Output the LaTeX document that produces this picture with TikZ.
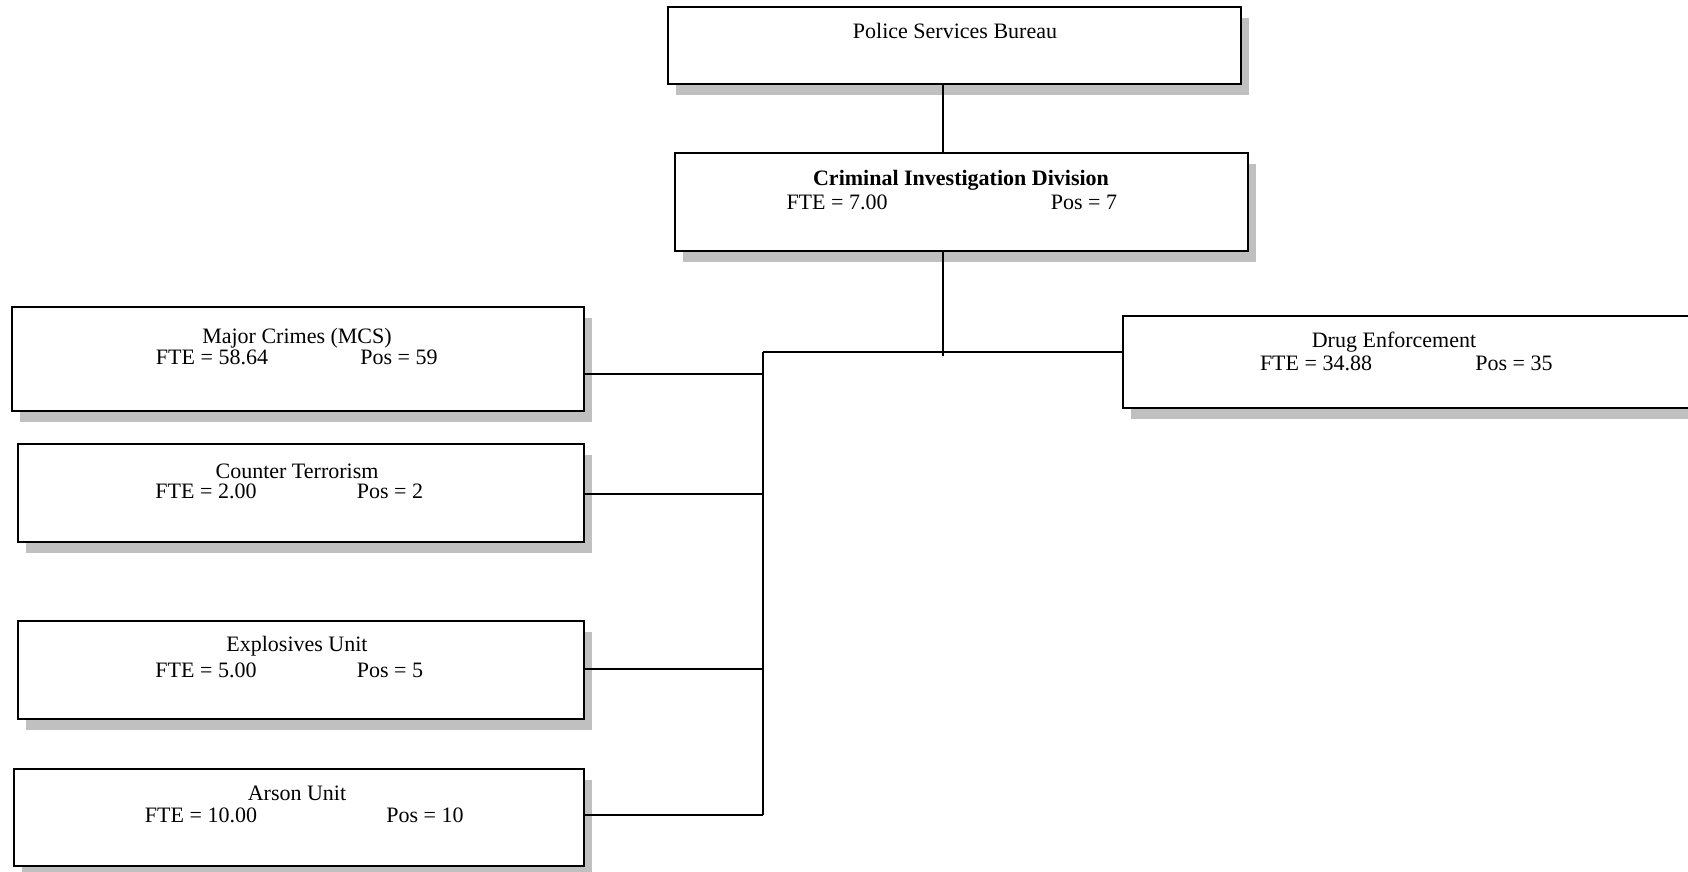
\documentclass[tikz,border=0pt]{standalone}
\usepackage{fontspec}
\setmainfont{Liberation Serif}
\usetikzlibrary{shadows}
\definecolor{shadowgray}{RGB}{192,192,192}
\begin{document}
\begin{tikzpicture}[x=1pt,y=-1pt,
  box/.style={draw=black, line width=1.6pt, fill=white, rectangle, inner sep=0pt, anchor=north west,
    drop shadow={shadow xshift=8pt, shadow yshift=-11pt, fill=shadowgray, opacity=1, draw=none}},
  lbl/.style={inner sep=0pt, font=\fontsize{22}{26}\selectfont},
  conn/.style={draw=black, line width=1.4pt}]
\useasboundingbox (0,0) rectangle (1688,872);
% boxes
\node[box, minimum width=573pt, minimum height=77pt] (psb) at (667,6) {};
\node[box, minimum width=573pt, minimum height=98pt] (cid) at (674,152) {};
\node[box, minimum width=572pt, minimum height=104pt] (mcs) at (11,306) {};
\node[box, minimum width=566pt, minimum height=98pt] (ct) at (17,443) {};
\node[box, minimum width=566pt, minimum height=98pt] (exp) at (17,620) {};
\node[box, minimum width=570pt, minimum height=97pt] (ars) at (13,768) {};
\node[box, minimum width=600pt, minimum height=92pt] (drug) at (1122,315) {};
% texts
\node[lbl] (psbt) at (955,31) {Police Services Bureau};
\node[lbl, font=\fontsize{22}{26}\selectfont\bfseries] (cidt) at (961,180) {Criminal Investigation Division};
\node[lbl] (cidf) at (837,202) {FTE = 7.00};
\node[lbl] (cidp) at (1084,202) {Pos = 7};
\node[lbl] (mcst) at (297,338) {Major Crimes (MCS)};
\node[lbl] (mcsf) at (212,357) {FTE = 58.64};
\node[lbl] (mcsp) at (399,357) {Pos = 59};
\node[lbl] (ctt) at (297,471) {Counter Terrorism};
\node[lbl] (ctf) at (206,491) {FTE = 2.00};
\node[lbl] (ctp) at (390,491) {Pos = 2};
\node[lbl] (expt) at (297,646) {Explosives Unit};
\node[lbl] (expf) at (206,670) {FTE = 5.00};
\node[lbl] (expp) at (390,670) {Pos = 5};
\node[lbl] (arst) at (297,793) {Arson Unit};
\node[lbl] (arsf) at (201,815) {FTE = 10.00};
\node[lbl] (arsp) at (425,815) {Pos = 10};
\node[lbl] (drugt) at (1394,342) {Drug Enforcement};
\node[lbl] (drugf) at (1316,363) {FTE = 34.88};
\node[lbl] (drugp) at (1514,363) {Pos = 35};
% connectors
\coordinate (tx) at (943,0);
\coordinate (bus) at (763,352);
\coordinate (busend) at (943,356);
\coordinate (bmcs) at (0,374);
\coordinate (bct) at (0,494);
\coordinate (bexp) at (0,669);
\coordinate (bars) at (0,815);
\draw[conn] (psb.south -| tx) -- (cid.north -| tx);
\draw[conn] (cid.south -| tx) -- (busend);
\draw[conn] (bus) -- (drug.west |- bus);
\draw[conn] (bus) -- (bus |- bars);
\draw[conn] (mcs.east |- bmcs) -- (bus |- bmcs);
\draw[conn] (ct.east |- bct) -- (bus |- bct);
\draw[conn] (exp.east |- bexp) -- (bus |- bexp);
\draw[conn] (ars.east |- bars) -- (bus |- bars);
\end{tikzpicture}
\end{document}
